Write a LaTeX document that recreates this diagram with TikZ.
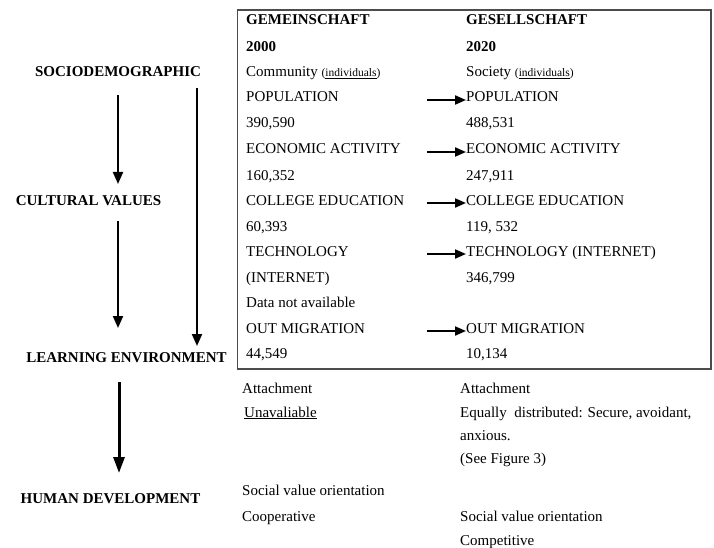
\documentclass[tikz,border=0pt]{standalone}
\usepackage{fontspec}
\setmainfont{Liberation Serif}
\usetikzlibrary{arrows.meta}
\newcommand\indiv{{\fontsize{11.5}{13}\selectfont(\underline{individuals})}}
\begin{document}
\begin{tikzpicture}[x=1pt,y=-1pt,
  txt/.style={anchor=base west,inner sep=0pt,font=\fontsize{15}{18}\selectfont},
  head/.style={txt,font=\fontsize{15}{18}\selectfont\bfseries},
  lbl/.style={anchor=base,inner sep=0pt,font=\fontsize{15}{18}\selectfont\bfseries},
  varrow/.style={line width=2pt,-{Triangle[length=12pt,width=10pt]}},
  bigarrow/.style={line width=3pt,-{Triangle[length=16pt,width=11pt]}},
  harrow/.style={line width=2pt,-{Triangle[length=11pt,width=9pt]}},
  frame/.style={draw=black!70,line width=1.3pt}]
\useasboundingbox (0,0) rectangle (714,548);

% table frame
\draw[frame] (237.5,10) rectangle (711,369);

% left-hand chain of factors
\node[lbl] (socio) at (118,77) {SOCIODEMOGRAPHIC};
\node[lbl] (cult)  at (88.5,205) {CULTURAL VALUES};
\node[lbl] (learn) at (126.5,362) {LEARNING ENVIRONMENT};
\node[lbl] (human) at (110.5,503) {HUMAN DEVELOPMENT};

\coordinate (a1s) at (118,95);  \coordinate (a1e) at (118,184);
\coordinate (a2s) at (197,88);  \coordinate (a2e) at (197,346);
\coordinate (a3s) at (118,221); \coordinate (a3e) at (118,328);
\coordinate (a4s) at (119,382); \coordinate (a4e) at (119,473);
\draw[varrow] (a1s) -- (a1e);
\draw[varrow] (a2s) -- (a2e);
\draw[varrow] (a3s) -- (a3e);
\draw[bigarrow] (a4s) -- (a4e);

% first column (2000)
\node[head] (g1) at (246,25) {GEMEINSCHAFT};
\node[head] (g2) at (246,51.5) {2000};
\node[txt] (g3) at (246,77) {Community \indiv};
\node[txt] (g4) at (246,102) {POPULATION};
\node[txt] (g5) at (246,128) {390,590};
\node[txt] (g6) at (246,154) {ECONOMIC ACTIVITY};
\node[txt] (g7) at (246,180) {160,352};
\node[txt] (g8) at (246,205) {COLLEGE EDUCATION};
\node[txt] (g9) at (246,231) {60,393};
\node[txt] (g10) at (246,256) {TECHNOLOGY};
\node[txt] (g11) at (246,282) {(INTERNET)};
\node[txt] (g12) at (246,307) {Data not available};
\node[txt] (g13) at (246,333) {OUT MIGRATION};
\node[txt] (g14) at (246,358) {44,549};

% second column (2020)
\node[head] (s1) at (466,25) {GESELLSCHAFT};
\node[head] (s2) at (466,51.5) {2020};
\node[txt] (s3) at (466,77) {Society \indiv};
\node[txt] (s4) at (466,102) {POPULATION};
\node[txt] (s5) at (466,128) {488,531};
\node[txt] (s6) at (466,154) {ECONOMIC ACTIVITY};
\node[txt] (s7) at (466,180) {247,911};
\node[txt] (s8) at (466,205) {COLLEGE EDUCATION};
\node[txt] (s9) at (466,231) {119, 532};
\node[txt] (s10) at (466,256) {TECHNOLOGY (INTERNET)};
\node[txt] (s11) at (466,282) {346,799};
\node[txt] (s13) at (466,333) {OUT MIGRATION};
\node[txt] (s14) at (466,358) {10,134};

% change arrows between the two years
\foreach \n/\y in {4/100,6/152,8/203,10/254,13/331}{
  \coordinate (h\n s) at (427,\y);
  \draw[harrow] (h\n s) -- (s\n.west |- h\n s);
}

% attachment and social value orientation
\node[txt] (la) at (242,393) {Attachment};
\node[txt] (lb) at (244,417) {\underline{Unavaliable}};
\node[txt] (lc) at (242,495) {Social value orientation};
\node[txt] (ld) at (242,521) {Cooperative};

\node[txt] (ra) at (460,393) {Attachment};
\node[txt] (rb) at (460,417) {Equally\ \ distributed: Secure, avoidant,};
\node[txt] (rc) at (460,440) {anxious.};
\node[txt] (rd) at (460,463) {(See Figure 3)};
\node[txt] (re) at (460,521) {Social value orientation};
\node[txt] (rf) at (460,545) {Competitive};
\end{tikzpicture}
\end{document}
